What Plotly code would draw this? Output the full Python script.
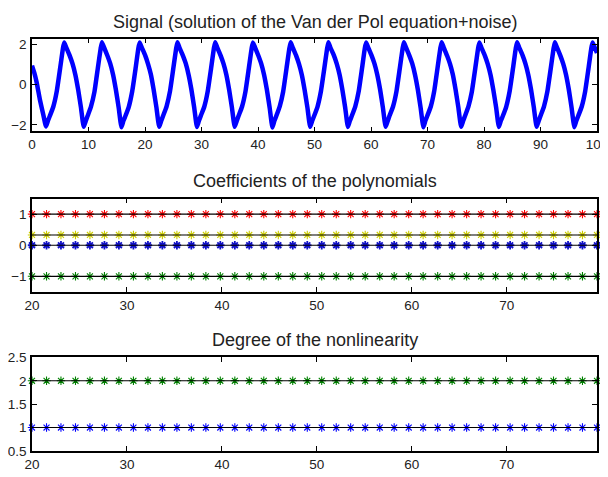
import plotly.graph_objects as go
from plotly.subplots import make_subplots

# ---------------- data ----------------
# Panel 1: noisy Van der Pol signal
sig_t = [0.0, 0.4, 0.8, 1.4, 2.0,
         2.47, 2.82, 3.17, 3.77, 4.37, 4.97, 5.47, 5.70, 6.07, 6.67, 7.17, 7.67, 8.17, 8.67,
         9.15, 9.50, 9.85, 10.45, 11.05, 11.65, 12.15, 12.38, 12.75, 13.35, 13.85, 14.35, 14.85, 15.35,
         15.83, 16.18, 16.53, 17.13, 17.73, 18.33, 18.83, 19.06, 19.43, 20.03, 20.53, 21.03, 21.53, 22.03,
         22.51, 22.86, 23.21, 23.81, 24.41, 25.01, 25.51, 25.74, 26.11, 26.71, 27.21, 27.71, 28.21, 28.71,
         29.19, 29.54, 29.89, 30.49, 31.09, 31.69, 32.19, 32.42, 32.79, 33.39, 33.89, 34.39, 34.89, 35.39,
         35.87, 36.22, 36.57, 37.17, 37.77, 38.37, 38.87, 39.10, 39.47, 40.07, 40.57, 41.07, 41.57, 42.07,
         42.55, 42.90, 43.25, 43.85, 44.45, 45.05, 45.55, 45.78, 46.15, 46.75, 47.25, 47.75, 48.25, 48.75,
         49.23, 49.58, 49.93, 50.53, 51.13, 51.73, 52.23, 52.46, 52.83, 53.43, 53.93, 54.43, 54.93, 55.43,
         55.91, 56.26, 56.61, 57.21, 57.81, 58.41, 58.91, 59.14, 59.51, 60.11, 60.61, 61.11, 61.61, 62.11,
         62.59, 62.94, 63.29, 63.89, 64.49, 65.09, 65.59, 65.82, 66.19, 66.79, 67.29, 67.79, 68.29, 68.79,
         69.27, 69.62, 69.97, 70.57, 71.17, 71.77, 72.27, 72.50, 72.87, 73.47, 73.97, 74.47, 74.97, 75.47,
         75.95, 76.30, 76.65, 77.25, 77.85, 78.45, 78.95, 79.18, 79.55, 80.15, 80.65, 81.15, 81.65, 82.15,
         82.63, 82.98, 83.33, 83.93, 84.53, 85.13, 85.63, 85.86, 86.23, 86.83, 87.33, 87.83, 88.33, 88.83,
         89.31, 89.66, 90.01, 90.61, 91.21, 91.81, 92.31, 92.54, 92.91, 93.51, 94.01, 94.51, 95.01, 95.51,
         95.99, 96.34, 96.69, 97.29, 97.89, 98.49, 98.99, 99.22, 99.59, 100.0]
sig_y = [0.95, 0.60, 0.15, -0.75, -1.50,
         -2.08, -1.80, -1.55, -1.10, -0.35, 0.80, 1.80, 2.10, 1.85, 1.45, 1.05, 0.50, -0.25, -1.15,
         -2.10, -1.82, -1.55, -1.08, -0.36, 0.82, 1.80, 2.12, 1.86, 1.44, 1.05, 0.50, -0.26, -1.16,
         -2.12, -1.80, -1.56, -1.10, -0.34, 0.80, 1.82, 2.10, 1.85, 1.46, 1.04, 0.52, -0.25, -1.15,
         -2.10, -1.81, -1.55, -1.09, -0.35, 0.81, 1.80, 2.11, 1.84, 1.45, 1.06, 0.50, -0.24, -1.14,
         -2.11, -1.80, -1.54, -1.10, -0.35, 0.80, 1.81, 2.12, 1.85, 1.45, 1.05, 0.51, -0.25, -1.15,
         -2.10, -1.82, -1.55, -1.10, -0.36, 0.80, 1.80, 2.10, 1.86, 1.44, 1.05, 0.50, -0.25, -1.16,
         -2.13, -1.80, -1.55, -1.08, -0.35, 0.82, 1.81, 2.11, 1.85, 1.45, 1.04, 0.50, -0.26, -1.15,
         -2.10, -1.81, -1.56, -1.10, -0.34, 0.80, 1.80, 2.12, 1.84, 1.46, 1.05, 0.51, -0.25, -1.14,
         -2.11, -1.80, -1.55, -1.09, -0.35, 0.81, 1.82, 2.10, 1.85, 1.45, 1.05, 0.50, -0.24, -1.15,
         -2.10, -1.82, -1.54, -1.10, -0.36, 0.80, 1.80, 2.11, 1.86, 1.45, 1.06, 0.50, -0.25, -1.16,
         -2.12, -1.80, -1.55, -1.10, -0.35, 0.82, 1.81, 2.12, 1.85, 1.44, 1.05, 0.52, -0.25, -1.15,
         -2.10, -1.81, -1.55, -1.08, -0.35, 0.80, 1.80, 2.10, 1.84, 1.45, 1.04, 0.50, -0.26, -1.14,
         -2.11, -1.80, -1.56, -1.10, -0.34, 0.81, 1.82, 2.11, 1.85, 1.46, 1.05, 0.50, -0.25, -1.15,
         -2.10, -1.82, -1.55, -1.09, -0.35, 0.80, 1.80, 2.12, 1.86, 1.45, 1.05, 0.51, -0.24, -1.16,
         -2.12, -1.80, -1.55, -1.10, -0.36, 0.80, 1.81, 2.10, 1.85, 1.58]

# Panels 2 and 3: sample positions of the estimates
est_t = [20.0, 21.53, 23.05, 24.58, 26.10, 27.63, 29.15, 30.68, 32.21, 33.73,
         35.26, 36.78, 38.31, 39.83, 41.36, 42.88, 44.41, 45.94, 47.46, 48.99,
         50.51, 52.04, 53.56, 55.09, 56.62, 58.14, 59.67, 61.19, 62.72, 64.24,
         65.77, 67.29, 68.82, 70.35, 71.87, 73.40, 74.92, 76.45, 77.97, 79.50]

# Panel 2: coefficients of the polynomials (constant over time)
coef_red = [1.0] * 40
coef_yellow = [0.33] * 40
coef_blue = [0.0] * 40
coef_green = [-1.0] * 40

# Panel 3: degree of the nonlinearity
deg_green = [2] * 40
deg_blue = [1] * 40

titles = ["Signal (solution of the Van der Pol equation+noise)",
          "Coefficients of the polynomials",
          "Degree of the nonlinearity"]

# ---------------- figure ----------------
# the page body adds an 8 px margin, so the figure is 8 px smaller on each side
OFF = 8
W, H = 608 - OFF, 477 - OFF
FONT = "Liberation Sans, Arial, Helvetica, sans-serif"
fig = make_subplots(rows=3, cols=1)

fig.add_trace(go.Scatter(x=sig_t, y=sig_y, mode="lines",
                         line=dict(color="#0000ff", width=4.5, shape="spline", smoothing=0.4)),
              row=1, col=1)

def marker_trace(y, color, lw=1.0):
    return go.Scatter(x=est_t, y=y, mode="markers", cliponaxis=False,
                      marker=dict(symbol="asterisk-open", size=7, color=color,
                                  line=dict(color=color, width=lw)))

def black_line(y):
    return go.Scatter(x=est_t, y=y, mode="lines",
                      line=dict(color="black", width=1.2))

for y, c, lw in [(coef_red, "#ff0000", 1.1), (coef_yellow, "#cccc00", 1.1),
                 (coef_blue, "#1010c8", 1.8), (coef_green, "#008000", 1.1)]:
    fig.add_trace(marker_trace(y, c, lw), row=2, col=1)
for y in [coef_red, coef_yellow, coef_blue, coef_green]:
    fig.add_trace(black_line(y), row=2, col=1)

for y, c in [(deg_green, "#008000"), (deg_blue, "#0000ff")]:
    fig.add_trace(marker_trace(y, c, 1.1), row=3, col=1)
for y in [deg_green, deg_blue]:
    fig.add_trace(black_line(y), row=3, col=1)

# panel pixel boxes in window coordinates (top, bottom)
boxes = [(32.3, 128.3), (197.7, 294.0), (361.7, 458.3)]
title_y = [15, 180, 344]

axis_common = dict(showline=True, linecolor="black", linewidth=1.5, mirror="ticks",
                   ticks="inside", ticklen=5, tickwidth=1, tickcolor="black",
                   showgrid=False, zeroline=False, ticklabeloverflow="allow",
                   tickfont=dict(family=FONT, size=13.5, color="#222"))

xranges = [[0, 100], [20, 79.5], [20, 79.5]]
xticks = [[0, 10, 20, 30, 40, 50, 60, 70, 80, 90, 100],
          [20, 30, 40, 50, 60, 70], [20, 30, 40, 50, 60, 70]]
yranges = [[-2.33, 2.3], [-1.5, 1.5], [0.5, 2.5]]
yticks = [[-2, 0, 2], [-1, 0, 1], [0.5, 1, 1.5, 2, 2.5]]

for i in range(3):
    top, bot = boxes[i]
    dom = [1 - (bot - OFF) / H, 1 - (top - OFF) / H]
    xa = "xaxis" if i == 0 else f"xaxis{i+1}"
    ya = "yaxis" if i == 0 else f"yaxis{i+1}"
    fig.layout[xa].update(range=xranges[i], tickvals=xticks[i], domain=[0, 1], **axis_common)
    fig.layout[ya].update(range=yranges[i], tickvals=yticks[i], domain=dom, ticklabelstandoff=1,
                          **axis_common)
    fig.add_annotation(text=titles[i], xref="paper", yref="paper",
                       x=0.5, y=1 - (title_y[i] - OFF) / H, xanchor="center", yanchor="middle",
                       showarrow=False,
                       font=dict(family=FONT, size=18, color="#222"))

fig.update_layout(width=W, height=H, showlegend=False,
                  paper_bgcolor="white", plot_bgcolor="white",
                  margin=dict(l=30 - OFF, r=10, t=0, b=0))

fig.write_html("out.html")
